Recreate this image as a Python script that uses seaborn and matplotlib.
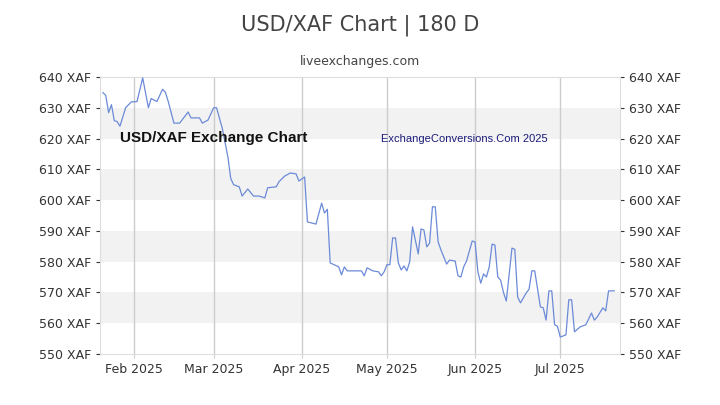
import matplotlib
matplotlib.use("Agg")
import matplotlib.pyplot as plt
import seaborn as sns
import pandas as pd

base_date = "2025-02-01"
day_offsets = [-11,-10,-9,-8,-7,-6,-5,-3,-1,1,3,5,6,8,10,11,12,14,16,19,20,23,24,26,28,29,31,33,34,35,37,38,40,42,44,46,47,50,51,53,55,57,58,60,61,64,66,67,68,69,72,73,74,75,79,80,81,82,84,86,87,88,89,90,91,92,93,94,95,96,97,98,100,101,102,103,104,105,106,107,108,110,111,113,114,115,116,117,119,120,121,122,123,124,125,126,127,128,129,130,131,133,134,135,136,138,139,140,141,143,144,145,146,147,148,149,150,152,153,154,155,157,159,161,162,163,165,166,167,169]
rates = [634.9,634,628.4,631,625.8,625.5,624,630,631.9,632,639.7,630,633,632,636,635,632,625,625,628.6,626.7,626.7,625,626,630,630,623.4,614,607,605,604.3,601.3,603.6,601.3,601.3,600.7,604,604.3,606,607.8,608.8,608.5,606.2,607.5,592.9,592.2,599,595.8,597,579.6,578.3,575.7,578.3,577,577,577,575.4,578,577,576.7,575.4,576.7,579,579,587.7,587.7,579.6,577.3,578.6,577,580,591.3,582.5,590.6,590.3,584.8,586,597.8,597.8,586.4,583.8,579.2,580.5,580.2,575.4,575,578.3,580.2,586.7,586.4,576.7,573,576,575,578.3,585.7,585.4,575,574,570,567.2,584.4,584,568.5,566.6,569.8,571,577,577,565.3,565,561,570.5,570.5,559.5,559,555.5,556.2,567.6,567.6,557.2,558.8,559.5,563.3,561,562,565,564,570.5,570.5]
y_ticks = [550,560,570,580,590,600,610,620,630,640]
month_ticks = ["2025-02-01","2025-03-01","2025-04-01","2025-05-01","2025-06-01","2025-07-01"]
month_labels = ["Feb 2025","Mar 2025","Apr 2025","May 2025","Jun 2025","Jul 2025"]

df = pd.DataFrame({"date": pd.Timestamp(base_date) + pd.to_timedelta(day_offsets, unit="D"), "rate": rates})

fig = plt.figure(figsize=(7.2, 4.05), dpi=100)
ax = fig.add_axes([0.139, 0.126, 0.722, 0.684])
for lo in [560, 580, 600, 620]:
    ax.axhspan(lo, lo + 10, color="#f2f2f2", zorder=0, lw=0)
mt = pd.to_datetime(month_ticks)
for m in mt:
    ax.axvline(m, color="#cccccc", lw=1, zorder=1)
sns.lineplot(data=df, x="date", y="rate", ax=ax, color="#6b8ad8", lw=0.9, zorder=3)
ax.set_xlim(pd.Timestamp("2025-01-20"), pd.Timestamp("2025-07-22"))
ax.set_ylim(550, 640)
ax.set_yticks(y_ticks)
ax.set_yticklabels([f"{v} XAF" for v in y_ticks])
ax.set_xticks(mt)
ax.set_xticklabels(month_labels)
ax.set_xlabel(""); ax.set_ylabel("")
ax.tick_params(axis="both", labelsize=9, colors="#333333", length=3)
ax.tick_params(axis="y", right=True, labelright=True, color="#333333")
ax.tick_params(axis="x", color="#cccccc")
for s in ax.spines.values():
    s.set_color("#dddddd")
ax.text(0.038, 0.765, "USD/XAF Exchange Chart", transform=ax.transAxes, fontsize=11,
        fontweight="bold", family="Liberation Sans", fontstretch="condensed", color="#111111", zorder=4)
ax.text(0.54, 0.765, "ExchangeConversions.Com 2025", transform=ax.transAxes, fontsize=8,
        family="Liberation Sans", fontstretch="condensed", color="#1a1a7a", zorder=4)
fig.text(0.5, 0.925, "USD/XAF Chart | 180 D", ha="center", fontsize=15, color="#444444")
fig.text(0.5, 0.84, "liveexchanges.com", ha="center", fontsize=9, color="#444444")
fig.savefig("out.png", dpi=100)
